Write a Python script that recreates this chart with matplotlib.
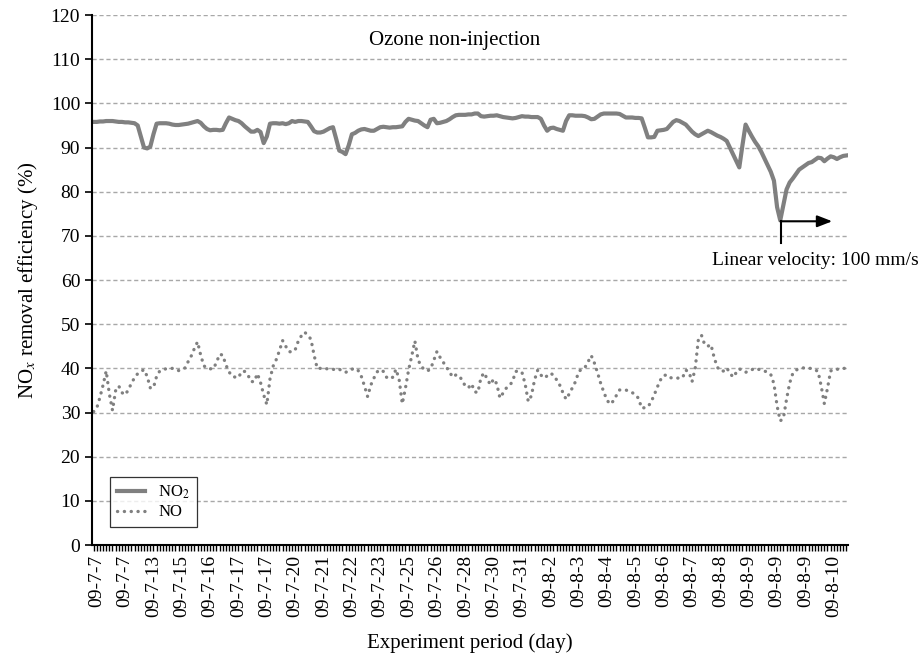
import numpy as np
import matplotlib
matplotlib.use("Agg")
import matplotlib.pyplot as plt

# NO2 removal efficiency (%), one value per category (day sample)
no2 = [
    95.8, 95.8, 95.9, 95.9, 96.0, 96.0, 96.0, 95.9, 95.8, 95.8,
    95.7, 95.7, 95.6, 95.5, 95.0, 92.5, 90.0, 89.8, 90.2, 93.0,
    95.4, 95.5, 95.5, 95.5, 95.4, 95.2, 95.1, 95.1, 95.2, 95.3,
    95.4, 95.6, 95.8, 96.0, 95.6, 94.8, 94.2, 93.9, 94.0, 94.0,
    93.9, 94.0, 95.5, 96.8, 96.5, 96.2, 96.0, 95.5, 94.8, 94.2,
    93.6, 93.6, 94.0, 93.5, 91.0, 92.5, 95.4, 95.5, 95.5, 95.4,
    95.5, 95.3, 95.5, 96.0, 95.8, 96.0, 96.0, 95.9, 95.8, 94.8,
    93.7, 93.4, 93.4, 93.6, 94.0, 94.4, 94.6, 92.0, 89.3, 89.0,
    88.5, 90.5, 93.0, 93.3, 93.8, 94.1, 94.2, 94.0, 93.8, 93.8,
    94.2, 94.6, 94.7, 94.6, 94.5, 94.6, 94.6, 94.7, 94.8, 95.8,
    96.5, 96.3, 96.1, 96.0, 95.5, 95.0, 94.6, 96.3, 96.5, 95.5,
    95.6, 95.8, 96.0, 96.4, 96.9, 97.3, 97.4, 97.4, 97.4, 97.5,
    97.5, 97.7, 97.7, 97.1, 97.0, 97.1, 97.2, 97.2, 97.3, 97.1,
    96.9, 96.8, 96.7, 96.6, 96.7, 96.9, 97.1, 97.0, 97.0, 96.9,
    96.9, 96.9, 96.5, 95.0, 93.8, 94.4, 94.5, 94.2, 94.0, 93.8,
    96.0, 97.3, 97.3, 97.2, 97.2, 97.2, 97.1, 96.8, 96.4, 96.5,
    97.0, 97.5, 97.7, 97.7, 97.7, 97.7, 97.7, 97.6, 97.2, 96.8,
    96.8, 96.8, 96.7, 96.7, 96.6, 94.5, 92.3, 92.3, 92.4, 93.8,
    93.9, 94.0, 94.2, 95.0, 95.8, 96.2, 96.0, 95.6, 95.2, 94.4,
    93.6, 93.0, 92.6, 93.0, 93.4, 93.8, 93.5, 93.1, 92.7, 92.4,
    92.0, 91.5, 90.0, 88.5, 87.0, 85.5, 90.5, 95.2, 93.8, 92.5,
    91.3, 90.3, 89.0, 87.5, 86.0, 84.5, 82.5, 76.5, 73.5, 77.0,
    80.5, 82.1, 83.0, 84.0, 85.0, 85.5, 86.0, 86.5, 86.7, 87.2,
    87.7, 87.6, 86.9, 87.5, 88.0, 87.8, 87.4, 87.8, 88.1, 88.2,
]

# NO removal efficiency (%)
no = [
    30.2, 31.0, 33.4, 36.2, 39.4, 34.2, 30.5, 35.0, 36.0, 34.5,
    34.0, 35.1, 36.6, 37.9, 38.8, 39.3, 39.7, 38.2, 35.6, 35.6,
    38.2, 39.4, 39.7, 39.9, 39.9, 40.0, 39.8, 39.5, 39.7, 40.1,
    41.5, 42.8, 44.5, 46.0, 43.0, 40.6, 40.0, 39.9, 39.9, 41.3,
    43.2, 43.0, 40.8, 39.2, 38.2, 38.0, 37.9, 39.3, 39.3, 38.5,
    37.0, 37.0, 38.8, 36.8, 34.0, 31.8, 37.6, 40.5, 42.0, 44.0,
    46.3, 45.0, 43.8, 43.7, 44.2, 46.2, 47.4, 48.2, 47.5, 46.6,
    43.0, 40.0, 40.0, 40.1, 39.9, 40.0, 39.8, 39.6, 39.8, 39.4,
    39.1, 39.4, 39.8, 40.0, 39.5, 38.2, 36.0, 33.6, 36.2, 37.8,
    39.2, 39.7, 39.3, 38.0, 37.6, 38.0, 39.8, 37.5, 32.0, 35.5,
    39.6, 42.8, 46.2, 42.0, 40.4, 39.8, 39.4, 39.9, 41.8, 43.8,
    42.5, 41.4, 40.3, 39.2, 38.0, 38.5, 38.4, 37.3, 36.0, 35.6,
    36.5, 34.7, 34.5, 38.0, 39.0, 37.5, 36.3, 37.6, 36.5, 33.3,
    34.4, 35.5, 36.1, 37.0, 39.3, 39.4, 39.1, 36.5, 32.5, 33.8,
    37.4, 39.6, 38.5, 37.8, 38.3, 38.9, 38.5, 37.4, 36.2, 34.5,
    33.0, 34.2, 35.6, 37.0, 39.2, 39.9, 40.2, 41.5, 42.9, 41.2,
    39.0, 36.6, 34.6, 32.8, 31.9, 32.6, 33.9, 35.1, 35.1, 35.1,
    34.8, 34.5, 34.1, 33.2, 31.0, 31.1, 31.3, 32.4, 34.0, 35.8,
    37.4, 38.4, 38.5, 37.9, 37.8, 37.8, 37.8, 37.9, 39.6, 39.2,
    37.0, 40.0, 46.5, 47.5, 45.4, 45.0, 45.4, 42.5, 40.3, 39.4,
    39.4, 40.1, 39.0, 38.0, 39.0, 39.9, 39.5, 39.1, 39.4, 39.7,
    40.0, 39.8, 39.6, 39.4, 39.1, 38.6, 36.5, 31.5, 28.1, 28.7,
    33.0, 36.7, 38.9, 39.6, 39.9, 40.1, 40.1, 40.1, 39.9, 39.7,
    39.3, 36.0, 32.0, 35.5, 39.4, 39.8, 39.8, 39.8, 40.0, 40.0,
]

date_labels = [
    "09-7-7", "09-7-7", "09-7-13", "09-7-15", "09-7-16", "09-7-17",
    "09-7-17", "09-7-20", "09-7-21", "09-7-22", "09-7-23", "09-7-25",
    "09-7-26", "09-7-28", "09-7-30", "09-7-31", "09-8-2", "09-8-3",
    "09-8-4", "09-8-5", "09-8-6", "09-8-7", "09-8-8", "09-8-9",
    "09-8-9", "09-8-9", "09-8-10",
]
label_every = 9
label_start = 1

plt.rcParams["font.family"] = ["Liberation Serif", "DejaVu Serif"]
plt.rcParams["mathtext.fontset"] = "stix"

x = np.arange(len(no2))
grey = "#808080"

fig = plt.figure(figsize=(9.23, 6.62), dpi=100)
ax = fig.add_axes([0.0997, 0.1767, 0.819, 0.8006])

ax.set_axisbelow(True)
ax.yaxis.grid(True, linestyle=(0, (3, 2)), color="#a8a8a8", linewidth=1.0)

ax.plot(x, no2, color=grey, linewidth=3.0, solid_joinstyle="round",
        label="NO$_2$")
ax.plot(x, no, color=grey, linewidth=2.4, linestyle=(0, (0.05, 2.0)),
        dash_capstyle="round", label="NO")

ax.set_xlim(-0.5, len(no2) - 0.5)
ax.set_ylim(0, 120)
ax.set_yticks(np.arange(0, 121, 10))

ax.set_xticks(np.arange(label_start, label_start + label_every * len(date_labels), label_every))
ax.set_xticklabels(date_labels, rotation=90)
ax.set_xticks(x, minor=True)
ax.tick_params(axis="x", which="both", direction="out", length=4, width=1.0,
               labelsize=14, pad=3)
ax.tick_params(axis="y", direction="out", length=5, width=1.2, labelsize=14)

for s in ["top", "right"]:
    ax.spines[s].set_visible(False)
for s in ["left", "bottom"]:
    ax.spines[s].set_linewidth(1.5)

ax.set_ylabel("NO$_x$ removal efficiency (%)", fontsize=15, labelpad=8)
ax.set_xlabel("Experiment period (day)", fontsize=15, labelpad=12)

ax.text(114.5, 114.2, "Ozone non-injection", ha="center", va="center", fontsize=15)

# linear velocity marker
ax.plot([218.1, 218.1], [73.3, 68.3], color="black", linewidth=1.5)
ax.annotate("", xy=(234.5, 73.3), xytext=(218.1, 73.3),
            arrowprops=dict(arrowstyle="-|>,head_length=0.9,head_width=0.35",
                            color="black", lw=1.5, shrinkA=0, shrinkB=0))
ax.text(196.4, 64.5, "Linear velocity: 100 mm/s", ha="left", va="center",
        fontsize=14, clip_on=False)

leg = ax.legend(loc="lower left", bbox_to_anchor=(0.024, 0.034), fontsize=12,
                frameon=True, fancybox=False, edgecolor="black",
                handlelength=1.7, handletextpad=0.8, labelspacing=0.2,
                borderpad=0.4, borderaxespad=0)
leg.get_frame().set_linewidth(0.9)

fig.savefig("out.png", dpi=100)
